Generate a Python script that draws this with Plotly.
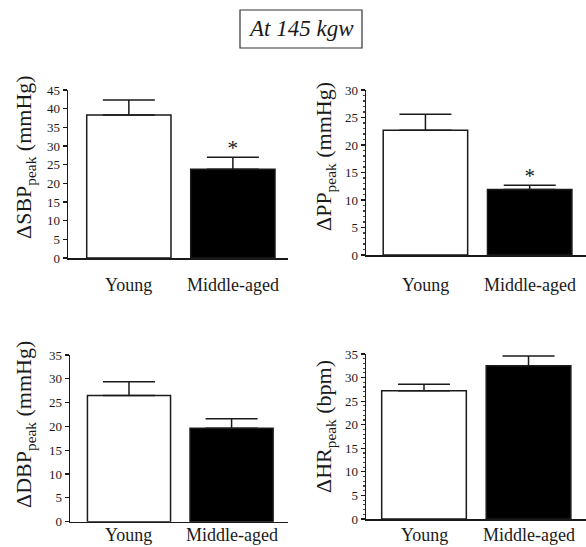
import plotly.graph_objects as go

groups = ["Young", "Middle-aged"]
sbp_mean = [38.3, 23.8]
sbp_err = [4.0, 3.2]
pp_mean = [22.7, 11.9]
pp_err = [2.9, 0.8]
dbp_mean = [26.5, 19.6]
dbp_err = [2.9, 2.0]
hr_mean = [27.2, 32.5]
hr_err = [1.4, 2.1]
sbp_sig = [False, True]
pp_sig = [False, True]
dbp_sig = [False, False]
hr_sig = [False, False]

title_text = "At 145 kgw"
ylabels = ["ΔSBP<sub>peak</sub> (mmHg)", "ΔPP<sub>peak</sub> (mmHg)",
           "ΔDBP<sub>peak</sub> (mmHg)", "ΔHR<sub>peak</sub> (bpm)"]
ymax = [45, 30, 35, 35]
ydtick = [5, 5, 5, 5]

W, H = 586, 547
SERIF = "Liberation Serif"
INK = "#1a1a1a"
fills = ["white", "black"]

# panel geometry in pixels: (x0, x1, y_top(max value), y_zero)
panels = [
    dict(x0=68, x1=288, ytop=90, y0=258, ycx=25, ycy=157, lab=285, minor=False),
    dict(x0=366, x1=586, ytop=90, y0=255, ycx=325, ycy=157, lab=285, minor=True),
    dict(x0=70, x1=288, ytop=355, y0=521.7, ycx=25, ycy=425, lab=535, minor=False),
    dict(x0=366, x1=586, ytop=354, y0=519, ycx=325, ycy=427, lab=535, minor=True),
]
means = [sbp_mean, pp_mean, dbp_mean, hr_mean]
errs = [sbp_err, pp_err, dbp_err, hr_err]
sigs = [sbp_sig, pp_sig, dbp_sig, hr_sig]
xranges = [[-0.585, 1.53], [-0.57, 1.54], [-0.575, 1.55], [-0.555, 1.55]]

fig = go.Figure()
annotations = []
for i, p in enumerate(panels):
    n = "" if i == 0 else str(i + 1)
    xa, ya = "x" + n, "y" + n
    fig.add_trace(go.Bar(
        x=groups, y=means[i], xaxis=xa, yaxis=ya, width=0.81,
        marker=dict(color=fills, line=dict(color=INK, width=1.5)),
        error_y=dict(type="data", array=errs[i], arrayminus=[0, 0], symmetric=False,
                     color=INK, thickness=1.5, width=26),
        showlegend=False, hoverinfo="skip"))
    star_x = [g for g, s in zip(groups, sigs[i]) if s]
    star_y = [m + e + ymax[i] * 0.045 for m, e, s in zip(means[i], errs[i], sigs[i]) if s]
    if star_x:
        fig.add_trace(go.Scatter(
            x=star_x, y=star_y, xaxis=xa, yaxis=ya, mode="text", text=["*"] * len(star_x),
            textfont=dict(family=SERIF, size=21, color=INK), textposition="middle center",
            showlegend=False, hoverinfo="skip"))
    xd = [p["x0"] / W, p["x1"] / W]
    yd = [(H - p["y0"]) / H, (H - p["ytop"]) / H]
    fig.layout["xaxis" + n] = dict(
        domain=xd, range=xranges[i], anchor=ya, showline=True, linecolor=INK,
        linewidth=1.5, ticks="", showticklabels=False, showgrid=False, zeroline=False,
        fixedrange=True, automargin=False)
    yax = dict(
        domain=yd, range=[0, ymax[i]], anchor=xa, showline=True, linecolor=INK,
        linewidth=1.5, ticks="outside", ticklen=4, tickwidth=1.2, tickcolor=INK,
        dtick=ydtick[i], tick0=0, showgrid=False, zeroline=False, automargin=False,
        tickfont=dict(family=SERIF, size=13, color=INK), fixedrange=True)
    if p["minor"]:
        yax["minor"] = dict(ticks="outside", ticklen=2, dtick=1, tickcolor="#444", showgrid=False)
    fig.layout["yaxis" + n] = yax
    annotations.append(dict(
        text=ylabels[i], xref="paper", yref="paper", x=p["ycx"] / W, y=(H - p["ycy"]) / H,
        textangle=-90, showarrow=False, xanchor="center", yanchor="middle",
        font=dict(family=SERIF, size=22, color=INK)))
    for g in groups:
        annotations.append(dict(
            text=g, xref=xa, yref="paper", x=g, y=(H - p["lab"]) / H,
            showarrow=False, xanchor="center", yanchor="middle",
            font=dict(family=SERIF, size=18, color=INK)))

annotations.append(dict(
    text="<i>" + title_text + "</i>", xref="paper", yref="paper", x=301 / W, y=(H - 29) / H,
    showarrow=False, xanchor="center", yanchor="middle",
    font=dict(family=SERIF, size=23, color=INK)))

fig.update_layout(
    template="none",
    width=W, height=H, margin=dict(l=0, r=0, t=0, b=0, autoexpand=False),
    paper_bgcolor="white", plot_bgcolor="white",
    annotations=annotations, bargap=0.2,
    shapes=[dict(type="rect", xref="paper", yref="paper",
                 x0=240 / W, x1=362 / W, y0=(H - 48) / H, y1=(H - 10) / H,
                 line=dict(color="#333", width=1.2), fillcolor="rgba(0,0,0,0)")])

fig.write_html(
    "out.html",
    config={"displayModeBar": False, "staticPlot": True},
    post_script="document.body.style.margin='0';document.body.style.overflow='hidden';",
)
